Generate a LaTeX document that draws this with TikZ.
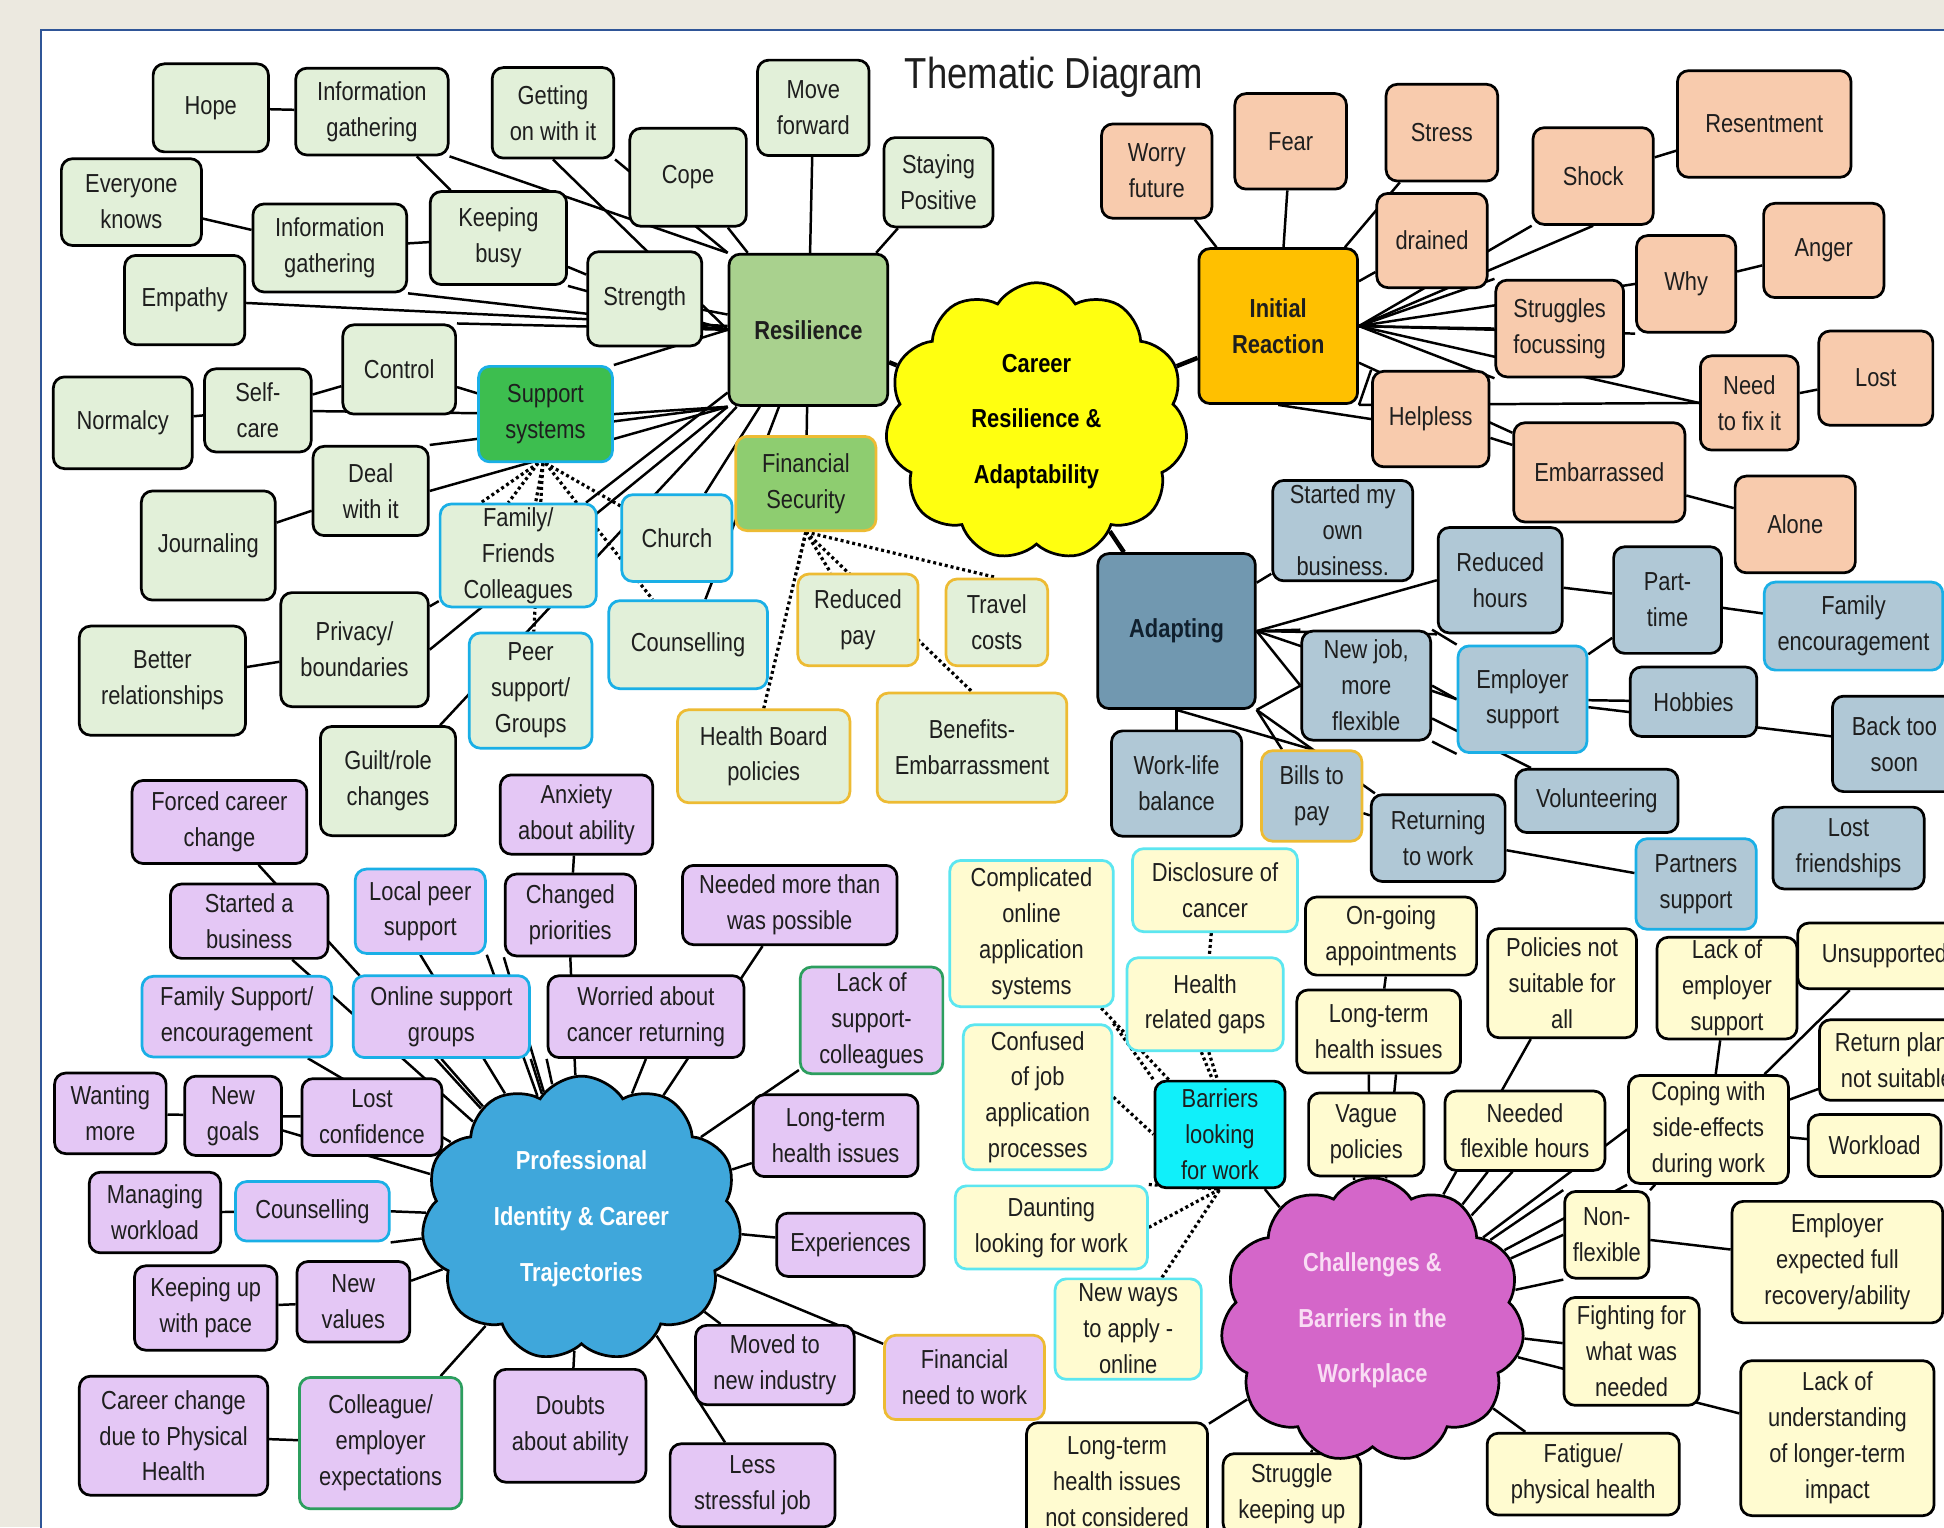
\documentclass[tikz,border=0pt]{standalone}
\usepackage{fontspec}
\setmainfont{Liberation Sans}[FakeStretch=0.84]
\usetikzlibrary{shapes.symbols}
\definecolor{beige}{HTML}{ECE9E0}
\definecolor{frameblue}{HTML}{2F5597}
\definecolor{greenleaf}{HTML}{E2F0D9}
\definecolor{gres}{HTML}{A9D18E}
\definecolor{gsup}{HTML}{3DBE4F}
\definecolor{gfin}{HTML}{8ECD70}
\definecolor{bluebd}{HTML}{1AAFE6}
\definecolor{goldbd}{HTML}{EDBB33}
\definecolor{peach}{HTML}{F8CBAD}
\definecolor{orng}{HTML}{FFC000}
\definecolor{adapt}{HTML}{7198B0}
\definecolor{adtext}{HTML}{10202E}
\definecolor{bluegrey}{HTML}{B0C8D6}
\definecolor{lav}{HTML}{E4C7F5}
\definecolor{greenbd}{HTML}{2C9E5E}
\definecolor{ylw}{HTML}{FFFBD0}
\definecolor{cyanbd}{HTML}{5CE6F0}
\definecolor{cyanf}{HTML}{10F0FA}
\definecolor{cyel}{HTML}{FFFF10}
\definecolor{pblue}{HTML}{3FA7DB}
\definecolor{orch}{HTML}{D466C9}
\definecolor{pinkt}{HTML}{F9DDF4}
\definecolor{textdark}{HTML}{1E1E1E}
\pgfdeclarelayer{back}
\pgfdeclarelayer{edges}
\pgfsetlayers{back,edges,main}
\newcommand\nf{\fontsize{21}{29}\selectfont}
\newcommand\cfn{\fontsize{21}{45}\selectfont\bfseries}
\newcommand\N[7]{\node[#1, minimum width=#5pt, minimum height=#6pt] (#2) at (#3,#4) {#7};}
\tikzset{
 box/.style={draw=black, line width=2.2pt, rounded corners=9pt, align=center, inner sep=1pt, font=\nf, text=textdark},
 gl/.style={box, fill=greenleaf},
 gbl/.style={box, fill=greenleaf, draw=bluebd},
 ggo/.style={box, fill=greenleaf, draw=goldbd},
 pe/.style={box, fill=peach},
 bgr/.style={box, fill=bluegrey},
 bgb/.style={box, fill=bluegrey, draw=bluebd},
 bgg/.style={box, fill=bluegrey, draw=goldbd},
 la/.style={box, fill=lav},
 lab/.style={box, fill=lav, draw=bluebd},
 lag/.style={box, fill=lav, draw=greenbd},
 lago/.style={box, fill=lav, draw=goldbd},
 ye/.style={box, fill=ylw},
 yec/.style={box, fill=ylw, draw=cyanbd},
 cl/.style={cloud, cloud puffs=11, cloud puff arc=115, draw=black, line width=2.2pt, align=center, font=\cfn, inner sep=0pt},
 ed/.style={line width=2pt, draw=black},
 edt/.style={line width=3.6pt, draw=black},
 dt/.style={line width=2.6pt, draw=black, dash pattern=on 2.4pt off 2.4pt},
}
\begin{document}
\begin{tikzpicture}[x=1pt,y=-1pt]
\useasboundingbox (0,0) rectangle (1568,1232);
\clip (0,0) rectangle (1568,1232);
\begin{pgfonlayer}{back}
\fill[beige] (0,0) rectangle (1568,1232);
\fill[white] (33,24) rectangle (1580,1240);
\draw[frameblue, line width=1.3pt] (33,1240) -- (33,24) -- (1580,24);
\end{pgfonlayer}

\node[font=\fontsize{35}{40}\selectfont, text=textdark] (title) at (850,62) {Thematic Diagram};

% ---------- Resilience cluster
\N{gl}{hope}{170}{87}{93}{71}{Hope}
\N{gl}{igA}{300}{90}{123}{70}{Information\\gathering}
\N{gl}{goi}{446}{91}{98}{73}{Getting\\on with it}
\N{gl}{mf}{656}{87}{90}{77}{Move\\forward}
\N{gl}{cope}{555}{143}{94}{79}{Cope}
\N{gl}{sp}{757}{147}{88}{72}{Staying\\Positive}
\N{gl}{ek}{106}{163}{113}{70}{Everyone\\knows}
\N{gl}{igB}{266}{200}{124}{71}{Information\\gathering}
\N{gl}{kb}{402}{192}{110}{75}{Keeping\\busy}
\N{gl}{str}{520}{241}{92}{76}{Strength}
\N{gl}{emp}{149}{242}{97}{72}{Empathy}
\N{box,fill=gres,font=\nf\bfseries}{res}{652}{266}{128}{122}{Resilience}
\N{gl}{ctl}{322}{298}{91}{72}{Control}
\N{box,fill=gsup,draw=bluebd}{ss}{440}{334}{108}{77}{Support\\systems}
\N{gl}{sc}{208}{331}{86}{67}{Self-\\care}
\N{gl}{nor}{99}{341}{112}{74}{Normalcy}
\N{gl}{dw}{299}{396}{93}{72}{Deal\\with it}
\N{box,fill=gfin,draw=goldbd}{fs}{650}{390}{113}{76}{Financial\\Security}
\N{gl}{jour}{168}{440}{108}{88}{Journaling}
\N{gbl}{ff}{418}{448}{126}{83}{Family/\\Friends\\Colleagues}
\N{gbl}{church}{546}{434}{89}{70}{Church}
\N{gbl}{coun}{555}{520}{128}{71}{Counselling}
\N{gl}{priv}{286}{524}{119}{92}{Privacy/\\boundaries}
\N{gl}{br}{131}{549}{134}{88}{Better\\relationships}
\N{gbl}{peer}{428}{557}{99}{93}{Peer\\support/\\Groups}
\N{ggo}{rp}{692}{500}{97}{74}{Reduced\\pay}
\N{ggo}{tc}{804}{502}{82}{70}{Travel\\costs}
\N{ggo}{hb}{616}{610}{139}{75}{Health Board\\policies}
\N{ggo}{ben}{784}{603}{153}{88}{Benefits-\\Embarrassment}
\N{gl}{guilt}{313}{630}{109}{88}{Guilt/role\\changes}

% ---------- Initial reaction cluster
\N{pe}{wf}{933}{138}{89}{76}{Worry\\future}
\N{pe}{fear}{1041}{114}{90}{77}{Fear}
\N{pe}{stress}{1163}{107}{90}{78}{Stress}
\N{pe}{rsm}{1423}{100}{140}{86}{Resentment}
\N{pe}{shock}{1285}{142}{97}{78}{Shock}
\N{pe}{dr}{1155}{194}{89}{76}{drained}
\N{box,fill=orng,font=\nf\bfseries}{ir}{1031}{263}{128}{125}{Initial\\Reaction}
\N{pe}{anger}{1471}{202}{97}{76}{Anger}
\N{pe}{why}{1360}{229}{80}{78}{Why}
\N{pe}{sf}{1258}{265}{103}{78}{Struggles\\focussing}
\N{pe}{lost}{1513}{305}{92}{76}{Lost}
\N{pe}{nf}{1411}{325}{79}{76}{Need\\to fix it}
\N{pe}{help}{1154}{338}{94}{77}{Helpless}
\N{pe}{emb}{1290}{381}{138}{80}{Embarrassed}
\N{pe}{alone}{1448}{423}{97}{78}{Alone}

% ---------- Adapting cluster
\N{box,fill=adapt,font=\nf\bfseries,text=adtext}{ad}{949}{509}{127}{125}{Adapting}
\N{bgr}{smob}{1083}{428}{113}{81}{Started my\\own\\business.}
\N{bgr}{rh}{1210}{468}{100}{85}{Reduced\\hours}
\N{bgr}{pt}{1345}{484}{87}{86}{Part-\\time}
\N{bgb}{fe}{1495}{505}{144}{71}{Family\\encouragement}
\N{bgr}{nj}{1102}{553}{104}{88}{New job,\\more\\flexible}
\N{bgb}{es}{1228}{564}{104}{86}{Employer\\support}
\N{bgr}{hob}{1366}{566}{102}{56}{Hobbies}
\N{bgr}{bts}{1528}{600}{100}{77}{Back too\\soon}
\N{bgr}{wlb}{949}{632}{105}{85}{Work-life\\balance}
\N{bgg}{bills}{1058}{642}{81}{73}{Bills to\\pay}
\N{bgr}{ret}{1160}{676}{108}{70}{Returning\\to work}
\N{bgr}{vol}{1288}{646}{131}{51}{Volunteering}
\N{bgb}{ps}{1368}{713}{97}{73}{Partners\\support}
\N{bgr}{lf}{1491}{684}{122}{66}{Lost\\friendships}

% ---------- Professional identity cluster
\N{la}{fcc}{177}{663}{141}{67}{Forced career\\change}
\N{la}{anx}{465}{657}{123}{64}{Anxiety\\about ability}
\N{la}{sab}{201}{743}{127}{60}{Started a\\business}
\N{lab}{lps}{339}{735}{105}{68}{Local peer\\support}
\N{la}{cp}{460}{738}{105}{66}{Changed\\priorities}
\N{la}{nmp}{637}{730}{173}{64}{Needed more than\\was possible}
\N{lab}{fsup}{191}{820}{153}{65}{Family Support/\\encouragement}
\N{lab}{osg}{356}{820}{142}{66}{Online support\\groups}
\N{la}{wor}{521}{820}{158}{66}{Worried about\\cancer returning}
\N{lag}{lsc}{703}{823}{115}{86}{Lack of\\support-\\colleagues}
\N{la}{wm}{89}{898}{90}{65}{Wanting\\more}
\N{la}{ng}{188}{900}{78}{64}{New\\goals}
\N{la}{lc}{300}{901}{113}{62}{Lost\\confidence}
\N{la}{lthp}{674}{916}{133}{66}{Long-term\\health issues}
\N{la}{mw}{125}{978}{106}{65}{Managing\\workload}
\N{lab}{cou2}{252}{977}{124}{48}{Counselling}
\N{la}{exp}{686}{1004}{119}{51}{Experiences}
\N{la}{kup}{166}{1055}{115}{68}{Keeping up\\with pace}
\N{la}{nv}{285}{1050}{91}{65}{New\\values}
\N{la}{mni}{625}{1101}{128}{64}{Moved to\\new industry}
\N{lago}{fnw}{778}{1111}{129}{68}{Financial\\need to work}
\N{la}{cc}{140}{1158}{152}{96}{Career change\\due to Physical\\Health}
\N{lag}{col}{307}{1164}{131}{106}{Colleague/\\employer\\expectations}
\N{la}{dba}{460}{1150}{122}{91}{Doubts\\about ability}
\N{la}{lsj}{607}{1198}{133}{67}{Less\\stressful job}

% ---------- Challenges cluster
\N{yec}{cos}{832}{753}{132}{118}{Complicated\\online\\application\\systems}
\N{yec}{dis}{980}{718}{133}{67}{Disclosure of\\cancer}
\N{ye}{og}{1122}{755}{138}{63}{On-going\\appointments}
\N{ye}{pol}{1260}{793}{120}{88}{Policies not\\suitable for\\all}
\N{ye}{lack}{1393}{797}{113}{82}{Lack of\\employer\\support}
\N{ye}{uns}{1520}{771}{140}{53}{Unsupported}
\N{yec}{hrg}{972}{810}{126}{75}{Health\\related gaps}
\N{ye}{lth}{1112}{832}{132}{67}{Long-term\\health issues}
\N{yec}{conf}{837}{885}{120}{117}{Confused\\of job\\application\\processes}
\N{ye}{rpl}{1530}{855}{125}{65}{Return plans\\not suitable}
\N{box,fill=cyanf}{bar}{984}{915}{105}{86}{Barriers\\looking\\for work}
\N{ye}{vag}{1102}{915}{93}{67}{Vague\\policies}
\N{ye}{nfh}{1230}{912}{129}{64}{Needed\\flexible hours}
\N{ye}{cop}{1378}{911}{129}{87}{Coping with\\side-effects\\during work}
\N{ye}{wl}{1512}{924}{107}{50}{Workload}
\N{yec}{daunt}{848}{990}{155}{67}{Daunting\\looking for work}
\N{ye}{nflex}{1296}{996}{68}{70}{Non-\\flexible}
\N{ye}{eef}{1482}{1018}{170}{98}{Employer\\expected full\\recovery/ability}
\N{yec}{nw}{910}{1072}{118}{81}{New ways\\to apply -\\online}
\N{ye}{fight}{1316}{1090}{109}{87}{Fighting for\\what was\\needed}
\N{ye}{lou}{1482}{1160}{156}{125}{Lack of\\understanding\\of longer-term\\impact}
\N{ye}{ltnc}{901}{1195}{146}{95}{Long-term\\health issues\\not considered}
\N{ye}{skp}{1042}{1205}{111}{65}{Struggle\\keeping up}
\N{ye}{fat}{1277}{1189}{155}{66}{Fatigue/\\physical health}

% ---------- Clouds
\node[cl, fill=cyel, text=black, minimum width=244pt, minimum height=224pt] (cr) at (836,340) {Career\\Resilience \&\\Adaptability};
\node[cl, fill=pblue, text=white, minimum width=258pt, minimum height=230pt] (pc) at (469,983) {Professional\\Identity \& Career\\Trajectories};
\node[cl, fill=orch, text=pinkt, minimum width=245pt, minimum height=230pt] (ch) at (1107,1065) {Challenges \&\\Barriers in the\\Workplace};

\begin{pgfonlayer}{edges}
% resilience
\draw[ed] (hope) -- (igA);
\draw[ed] (igA) -- (kb);
\draw[ed] (igA.south east) -- (res.north west);
\draw[ed] (goi.south) -- (res.west);
\draw[ed] (goi.south east) -- (res.north west);
\draw[ed] (cope) -- (res);
\draw[ed] (mf) -- (res);
\draw[ed] (sp) -- (res);
\draw[ed] (ek) -- (igB);
\draw[ed] (igB) -- (kb);
\draw[ed] (igB.south east) -- (res.west);
\draw[ed] (kb) -- (str);
\draw[ed] (kb.south east) -- (res.west);
\draw[ed] (emp) -- (res);
\draw[ed] (str) -- (res);
\draw[ed] (ctl) -- (ss);
\draw[ed] (ctl.north east) -- (res.west);
\draw[ed] (sc) -- (ctl);
\draw[ed] (sc) -- (ss);
\draw[ed] (nor) -- (sc);
\draw[ed] (ss.north east) -- (res.west);
\draw[ed] (ss.east) -- (res.south west);
\draw[ed] (dw.north east) -- (res.south west);
\draw[ed] (dw.east) -- (res.south west);
\draw[ed] (jour) -- (dw);
\draw[ed] (priv) -- (ff);
\draw[ed] (priv.east) -- (res.south west);
\draw[ed] (br) -- (priv);
\draw[ed] (guilt) -- (res);
\draw[ed] (ff) -- (res);
\draw[ed] (church) -- (res);
\draw[ed] (coun) -- (res);
\draw[ed] (res) -- (fs);
\draw[dt] ([xshift=-6pt]ss.south) -- ([xshift=-30pt]ff.north);
\draw[dt] ([xshift=-6pt]ss.south) -- ([xshift=-8pt]ff.north);
\draw[dt] ([xshift=-2pt]ss.south) -- ([xshift=14pt]ff.north);
\draw[dt] (ss.south) -- (church);
\draw[dt] (ss.south) -- (coun);
\draw[dt] (ss) -- (peer);
\draw[dt] (fs.south) -- (rp.north west);
\draw[dt] (fs.south) -- ([xshift=-22pt]rp.north);
\draw[dt] (fs.south) -- (tc.north);
\draw[dt] (fs.south) -- (hb.north);
\draw[dt] (fs.south) -- (ben.north);
% central links
\draw[edt] (res) -- (cr);
\draw[edt] (ir) -- (cr);
\draw[edt] (ad) -- (cr);
% initial reaction
\draw[ed] (wf) -- (ir);
\draw[ed] (fear) -- (ir);
\draw[ed] (stress) -- (ir);
\draw[ed] (dr) -- (ir);
\draw[ed] (shock) -- (rsm);
\draw[ed] (shock.south west) -- (ir.east);
\draw[ed] (shock.south) -- (ir.east);
\draw[ed] (why) -- (anger);
\draw[ed] (why.west) -- (ir.east);
\draw[ed] (why.south west) -- (ir.east);
\draw[ed] (sf.west) -- (ir.east);
\draw[ed] (sf.north west) -- (ir.east);
\draw[ed] (sf.south west) -- (ir.east);
\draw[ed] (nf) -- (lost);
\draw[ed] (ir.east) -- (nf.west);
\draw[ed] (ir.south east) -- (nf.west);
\draw[ed] (help.west) -- (ir.south);
\draw[ed] (help.north west) -- (ir.south east);
\draw[ed] (ir) -- (emb);
\draw[ed] (help) -- (emb);
\draw[ed] (emb) -- (alone);
% adapting
\draw[ed] (ad) -- (smob);
\draw[ed] (ad.east) -- (rh.west);
\draw[ed] (ad.east) -- (rh.south west);
\draw[ed] (rh) -- (pt);
\draw[ed] (pt) -- (fe);
\draw[ed] (es) -- (pt);
\draw[ed] (ad.east) -- (nj.west);
\draw[ed] (ad.east) -- (nj.north west);
\draw[ed] (ad.south east) -- (nj.west);
\draw[ed] (ad.east) -- (es.west);
\draw[ed] (nj.east) -- (es.west);
\draw[ed] (nj.north east) -- (es.north west);
\draw[ed] (nj.south east) -- (es.south west);
\draw[ed] (es) -- (hob);
\draw[ed] (es) -- (bts);
\draw[ed] (nj) -- (vol);
\draw[ed] (ad) -- (wlb);
\draw[ed] (ad.south east) -- (bills);
\draw[ed] (ad.south) -- (bills.north);
\draw[ed] (ad.south east) -- (ret);
\draw[ed] (bills) -- (ret);
\draw[ed] (ret) -- (ps);
% professional identity
\draw[ed] (fcc) -- (pc);
\draw[ed] (anx) -- (cp);
\draw[ed] (cp.south) -- (pc);
\draw[ed] (cp.south west) -- (pc);
\draw[ed] (sab) -- (pc);
\draw[ed] (lps.south) -- (pc);
\draw[ed] (lps.south east) -- (pc);
\draw[ed] (fsup) -- (pc);
\draw[ed] (osg.south) -- (pc);
\draw[ed] (osg.south east) -- (pc);
\draw[ed] (wor.south west) -- (pc);
\draw[ed] (wor.south) -- (pc);
\draw[ed] (nmp) -- (pc);
\draw[ed] (lsc) -- (pc);
\draw[ed] (lthp) -- (pc);
\draw[ed] (exp) -- (pc);
\draw[ed] (fnw) -- (pc);
\draw[ed] (mni) -- (pc);
\draw[ed] (lsj) -- (pc);
\draw[ed] (dba) -- (pc);
\draw[ed] (col) -- (pc);
\draw[ed] (cc) -- (col);
\draw[ed] (nv) -- (pc);
\draw[ed] (kup) -- (nv);
\draw[ed] (cou2.east) -- (pc);
\draw[ed] (cou2.south east) -- (pc);
\draw[ed] (mw) -- (cou2);
\draw[ed] (ng) -- (pc);
\draw[ed] (wm) -- (ng);
\draw[ed] (ng) -- (lc);
\draw[ed] (lc) -- (pc);
% challenges
\draw[dt] (cos) -- (bar);
\draw[dt] (dis) -- (hrg);
\draw[dt] ([xshift=-3pt]hrg.south) -- ([xshift=-6pt]bar.north);
\draw[dt] ([xshift=3pt]hrg.south) -- ([xshift=-2pt]bar.north);
\draw[dt] (conf.north east) -- (bar.north west);
\draw[dt] (conf.east) -- (bar.west);
\draw[dt] (daunt.east) -- (bar.south);
\draw[dt] (daunt.north east) -- (bar.south);
\draw[dt] (nw) -- (bar.south);
\draw[ed] (bar) -- (ch);
\draw[ed] (og) -- (lth);
\draw[ed] ([xshift=-8pt]lth.south) -- (ch);
\draw[ed] ([xshift=14pt]lth.south) -- (ch);
\draw[ed] ([xshift=-10pt]vag.south) -- (ch);
\draw[ed] ([xshift=8pt]vag.south) -- (ch);
\draw[ed] (pol) -- (ch);
\draw[ed] ([xshift=-30pt]nfh.south) -- (ch);
\draw[ed] ([xshift=-10pt]nfh.south) -- (ch);
\draw[ed] (lack) -- (cop);
\draw[ed] (uns) -- (cop);
\draw[ed] (rpl) -- (cop);
\draw[ed] (cop.west) -- (ch);
\draw[ed] (cop.south west) -- (ch);
\draw[ed] (wl) -- (cop);
\draw[ed] (cop) -- (nflex);
\draw[ed] (nflex.west) -- (ch);
\draw[ed] (nflex.north west) -- (ch);
\draw[ed] (nflex.south west) -- (ch);
\draw[ed] (eef) -- (nflex);
\draw[ed] (fight) -- (ch);
\draw[ed] (lou) -- (ch);
\draw[ed] (fat) -- (ch);
\draw[ed] (skp) -- (ch);
\draw[ed] (ltnc) -- (ch);
\end{pgfonlayer}
\end{tikzpicture}
\end{document}
